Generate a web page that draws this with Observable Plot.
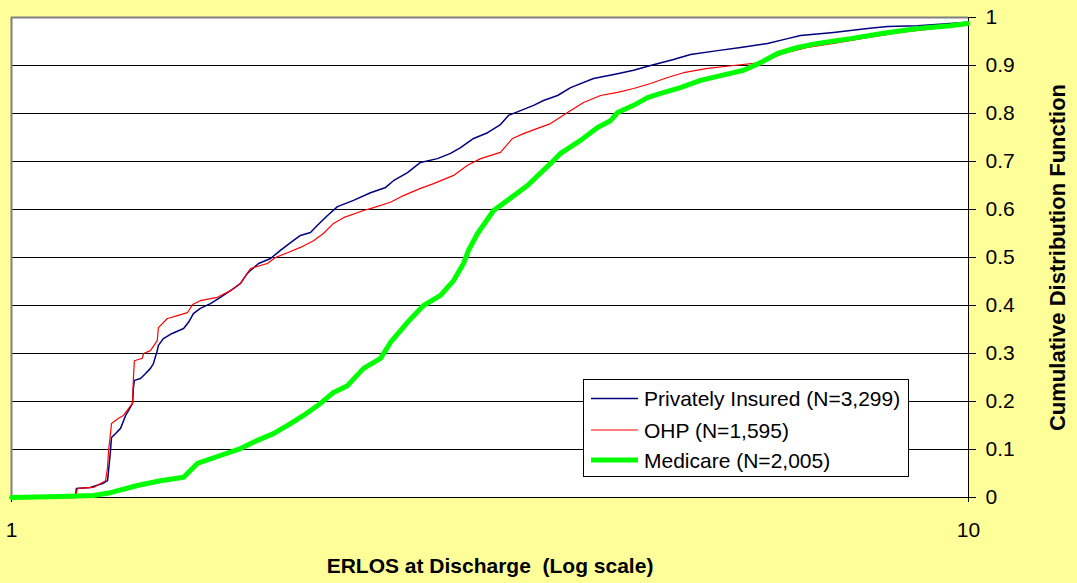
<!DOCTYPE html>
<html>
<head>
<meta charset="utf-8">
<script src="https://cdn.jsdelivr.net/npm/d3@7"></script>
<script src="https://cdn.jsdelivr.net/npm/@observablehq/plot@0.6"></script>
<style>
  html, body { margin: 0; padding: 0; background: #FFFF99; }
  #chart { width: 1077px; height: 583px; }
  svg { display: block; }
</style>
</head>
<body>
<div id="chart"></div>
<script>
// ---- Data ----
const seriesNames = ["Privately Insured (N=3,299)", "OHP (N=1,595)", "Medicare (N=2,005)"];
const seriesColors = ["#000080", "#FF0000", "#00FF00"];

const xTicks = [1, 10];
const yTicks = [0, 0.1, 0.2, 0.3, 0.4, 0.5, 0.6, 0.7, 0.8, 0.9, 1];

// Privately Insured
const privX = [1.000, 1.166, 1.169, 1.209, 1.245, 1.260, 1.263, 1.269, 1.272, 1.284, 1.300, 1.316, 1.325, 1.338, 1.341, 1.344,
  1.364, 1.380, 1.397, 1.407, 1.420, 1.424, 1.441, 1.466, 1.513, 1.531, 1.549, 1.575, 1.614, 1.653, 1.706, 1.735, 1.764,
  1.777, 1.812, 1.865, 1.910, 1.957, 2.004, 2.053, 2.088, 2.139, 2.191, 2.277, 2.372, 2.460, 2.507, 2.593, 2.675, 2.787,
  2.876, 2.946, 3.040, 3.144, 3.243, 3.306, 3.403, 3.512, 3.597, 3.721, 3.839, 4.057, 4.298, 4.467, 4.654, 4.918, 5.123,
  5.468, 5.779, 6.166, 6.470, 6.675, 7.226, 7.843, 8.229, 8.845, 9.577, 9.977];
const privY = [0, 0, 0.019, 0.021, 0.029, 0.035, 0.056, 0.098, 0.125, 0.133, 0.144, 0.171, 0.181, 0.196, 0.229, 0.244,
  0.248, 0.258, 0.269, 0.279, 0.306, 0.317, 0.331, 0.340, 0.352, 0.365, 0.383, 0.394, 0.404, 0.417, 0.435, 0.446, 0.467,
  0.473, 0.4875, 0.498, 0.515, 0.531, 0.546, 0.552, 0.567, 0.5875, 0.606, 0.619, 0.635, 0.646, 0.660, 0.677, 0.698, 0.706,
  0.717, 0.729, 0.748, 0.760, 0.777, 0.796, 0.806, 0.817, 0.827, 0.8375, 0.854, 0.873, 0.883, 0.890, 0.900, 0.9125, 0.923,
  0.931, 0.9375, 0.946, 0.956, 0.9625, 0.969, 0.977, 0.981, 0.983, 0.9875, 0.990];

// OHP
const ohpX = [1.000, 1.166, 1.172, 1.218, 1.239, 1.254, 1.260, 1.263, 1.269, 1.272, 1.294, 1.309, 1.325, 1.338, 1.341, 1.344,
  1.370, 1.374, 1.397, 1.420, 1.424, 1.455, 1.491, 1.527, 1.546, 1.575, 1.641, 1.694, 1.735, 1.777, 1.851, 1.887, 1.943,
  2.004, 2.068, 2.118, 2.170, 2.223, 2.333, 2.390, 2.489, 2.568, 2.675, 2.761, 2.897, 2.996, 3.092, 3.243, 3.338, 3.428,
  3.545, 3.659, 3.811, 3.961, 4.126, 4.298, 4.467, 4.654, 4.848, 5.038, 5.338, 5.682, 6.064, 6.408, 6.788, 7.226, 7.843,
  8.491, 9.061, 9.577, 9.977];
const ohpY = [0, 0, 0.019, 0.021, 0.029, 0.035, 0.0625, 0.098, 0.133, 0.154, 0.165, 0.171, 0.185, 0.196, 0.250, 0.285,
  0.290, 0.300, 0.306, 0.327, 0.354, 0.373, 0.379, 0.385, 0.402, 0.410, 0.417, 0.431, 0.446, 0.477, 0.4875, 0.500, 0.510,
  0.521, 0.535, 0.550, 0.571, 0.583, 0.598, 0.604, 0.615, 0.629, 0.644, 0.654, 0.671, 0.692, 0.706, 0.719, 0.748, 0.758,
  0.769, 0.779, 0.802, 0.823, 0.8375, 0.844, 0.852, 0.8625, 0.875, 0.885, 0.894, 0.900, 0.906, 0.925, 0.9375, 0.946, 0.958,
  0.969, 0.975, 0.981, 0.985];

// Medicare
const medX = [1.000, 1.125, 1.218, 1.269, 1.354, 1.431, 1.513, 1.564, 1.653, 1.735, 1.807, 1.878, 1.957, 2.019, 2.103, 2.170,
  2.244, 2.333, 2.430, 2.489, 2.593, 2.695, 2.807, 2.897, 2.967, 3.003, 3.069, 3.190, 3.298, 3.461, 3.659, 3.748, 3.932,
  4.096, 4.226, 4.298, 4.467, 4.620, 4.767, 5.001, 5.248, 5.508, 5.821, 6.064, 6.316, 6.627, 6.953, 7.528, 8.150, 8.845,
  9.577, 9.977];
const medY = [0, 0.002, 0.004, 0.010, 0.025, 0.035, 0.042, 0.071, 0.0875, 0.102, 0.119, 0.133, 0.154, 0.171, 0.196, 0.219,
  0.233, 0.269, 0.290, 0.323, 0.365, 0.400, 0.421, 0.452, 0.4875, 0.515, 0.550, 0.598, 0.619, 0.650, 0.696, 0.717, 0.744,
  0.771, 0.785, 0.802, 0.817, 0.833, 0.842, 0.854, 0.869, 0.879, 0.890, 0.906, 0.925, 0.9375, 0.946, 0.956, 0.967, 0.977,
  0.983, 0.9875];

const FONT = "'Liberation Sans', Arial, Helvetica, sans-serif";

const chart = Plot.plot({
  width: 1077,
  height: 583,
  marginLeft: 11,
  marginRight: 109,
  marginTop: 17,
  marginBottom: 86,
  style: { background: "#FFFF99", fontFamily: FONT, fontSize: "21px", color: "#000" },
  x: { type: "log", domain: [1, 10] },
  y: { domain: [0, 1] },
  marks: [
    Plot.frame({ fill: "white", stroke: null }),
    Plot.ruleY(yTicks.filter(d => d < 1), { stroke: "#000", strokeWidth: 1 }),
    Plot.ruleY([1], { stroke: "#808080", strokeWidth: 2 }),
    Plot.ruleX([1], { stroke: "#808080", strokeWidth: 2 }),
    Plot.ruleX([10], { stroke: "#000", strokeWidth: 1 }),
    Plot.axisY({ anchor: "right", ticks: yTicks, tickSize: 7, tickPadding: 10, tickFormat: d3.format("~g"),
                 label: null, fontSize: 21, stroke: "#000" }),
    Plot.axisX({ anchor: "bottom", ticks: xTicks, tickSize: 5, tickPadding: 20, tickFormat: d => String(d),
                 label: null, fontSize: 21, stroke: "#000" }),
    Plot.line(privY, { x: privX, y: privY, stroke: seriesColors[0], strokeWidth: 1.5 }),
    Plot.line(ohpY, { x: ohpX, y: ohpY, stroke: seriesColors[1], strokeWidth: 1.2 }),
    Plot.line(medY, { x: medX, y: medY, stroke: seriesColors[2], strokeWidth: 5, strokeLinecap: "round", strokeLinejoin: "round" }),
    Plot.text(["ERLOS at Discharge  (Log scale)"], { frameAnchor: "bottom", dy: 69, lineAnchor: "middle",
               textAnchor: "middle", fontSize: 21, fontWeight: "bold", fill: "#000" }),
    Plot.text(["Cumulative Distribution Function"], { frameAnchor: "right", dx: 89, rotate: -90, lineAnchor: "middle",
               textAnchor: "middle", fontSize: 22, fontWeight: "bold", fill: "#000" })
  ]
});

// Legend box inside the plot area (layout only)
const svg = d3.select(chart);
const lg = svg.append("g").attr("font-family", FONT).attr("font-size", 21).attr("text-anchor", "start");
lg.append("rect").attr("x", 583.5).attr("y", 379.5).attr("width", 325).attr("height", 97)
  .attr("fill", "white").attr("stroke", "#000").attr("stroke-width", 1);
const rowsY = [398.5, 430, 460];
const widths = [1.5, 1.2, 5];
seriesNames.forEach((name, i) => {
  lg.append("line").attr("x1", 591).attr("x2", 638).attr("y1", rowsY[i]).attr("y2", rowsY[i])
    .attr("stroke", seriesColors[i]).attr("stroke-width", widths[i]);
  lg.append("text").attr("x", 644).attr("y", rowsY[i]).attr("dy", "0.36em")
    .attr("text-anchor", "start").attr("fill", "#000").text(name);
});

document.getElementById("chart").appendChild(chart);
</script>
</body>
</html>
